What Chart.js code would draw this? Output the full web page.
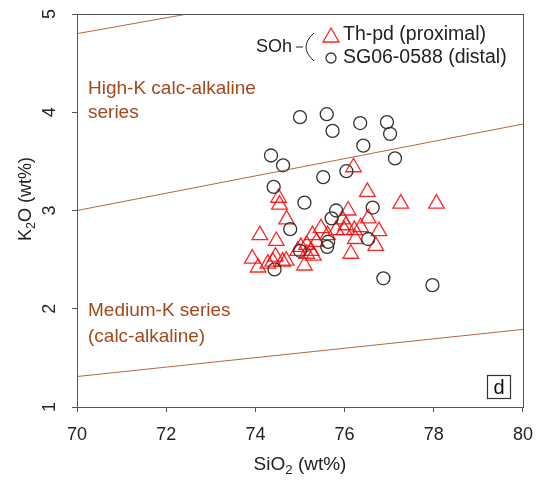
<!DOCTYPE html>
<html>
<head>
<meta charset="utf-8">
<script src="https://cdn.jsdelivr.net/npm/chart.js@4.4.0/dist/chart.umd.min.js"></script>
<style>
  html, body { margin: 0; padding: 0; background: #fff; }
</style>
</head>
<body>
<canvas id="myChart" width="545" height="481"></canvas>
<script>
const ctx = document.getElementById('myChart');

// axis ticks
const xTicks = [70, 72, 74, 76, 78, 80];
const yTicks = [1, 2, 3, 4, 5];

// Th-pd (proximal) glass
const thpdSiO2 = [76.20, 76.51, 77.26, 78.06, 74.52, 74.54, 74.70, 76.08, 76.53, 76.77,
  76.70, 76.36, 76.24, 76.14, 75.95, 76.03, 76.22, 74.10, 74.47, 75.47,
  75.62, 75.28, 75.37, 75.15, 75.02, 74.95, 75.25, 75.30, 75.15, 75.10,
  73.93, 74.06, 74.45, 74.39, 74.61, 74.69, 74.28, 75.81, 75.99];
const thpdK2O = [3.44, 3.19, 3.07, 3.07, 3.13, 3.06, 2.91, 3.00, 2.92, 2.79,
  2.64, 2.83, 2.71, 2.56, 2.91, 2.85, 2.80, 2.75, 2.69, 2.82,
  2.75, 2.75, 2.68, 2.65, 2.63, 2.59, 2.59, 2.54, 2.56, 2.44,
  2.51, 2.42, 2.53, 2.48, 2.48, 2.49, 2.46, 2.80, 2.80];

// SG06-0588 (distal) glass
const sgSiO2 = [75.00, 75.60, 75.73, 76.35, 76.95, 77.02, 76.42, 74.35, 74.62, 77.13,
  76.04, 75.52, 74.41, 75.10, 75.81, 75.71, 76.63, 74.78, 76.53, 75.63,
  75.61, 75.00, 74.43, 76.87, 77.97];
const sgK2O = [3.95, 3.98, 3.81, 3.89, 3.90, 3.78, 3.66, 3.56, 3.46, 3.53,
  3.40, 3.34, 3.24, 3.08, 3.00, 2.92, 3.03, 2.81, 2.71, 2.68,
  2.63, 2.59, 2.40, 2.31, 2.24];

// series boundaries
const shoSiO2 = [70, 72.48];
const shoK2O = [4.80, 5.00];
const highKSiO2 = [70, 80];
const highKK2O = [3.00, 3.88];
const medKSiO2 = [70, 80];
const medKK2O = [1.31, 1.79];

const font = 'Liberation Sans, Arial, sans-serif';
const lineBrown = '#b5683f';
const textBrown = '#a3481c';
const axisGrey = '#555';

function pts(xs, ys) {
  return xs.map((x, i) => ({ x: x, y: ys[i] }));
}

// text with a subscript part: parts = [[text, sub?], ...]
function drawSubText(c, parts, x, y, size) {
  let w = 0;
  parts.forEach(p => {
    c.font = (p[1] ? size * 0.7 : size) + 'px ' + font;
    w += c.measureText(p[0]).width;
  });
  let cx = x - w / 2;
  c.textAlign = 'left';
  c.textBaseline = 'middle';
  parts.forEach(p => {
    c.font = (p[1] ? size * 0.7 : size) + 'px ' + font;
    c.fillText(p[0], cx, p[1] ? y + size * 0.3 : y);
    cx += c.measureText(p[0]).width;
  });
}

const extras = {
  id: 'extras',
  afterDraw(chart) {
    const c = chart.ctx;
    const a = chart.chartArea;
    const ys = chart.scales.y;
    c.save();

    // frame
    c.strokeStyle = axisGrey;
    c.lineWidth = 1;
    c.strokeRect(a.left + 0.5, a.top + 0.5, a.right - a.left, a.bottom - a.top);

    // y tick labels, rotated
    c.fillStyle = '#222';
    c.font = '18px ' + font;
    c.textAlign = 'center';
    c.textBaseline = 'middle';
    yTicks.forEach(v => {
      c.save();
      c.translate(a.left - 27, ys.getPixelForValue(v));
      c.rotate(-Math.PI / 2);
      c.fillText(String(v), 0, 0);
      c.restore();
    });

    // axis titles
    drawSubText(c, [['SiO', false], ['2', true], [' (wt%)', false]], (a.left + a.right) / 2, 465, 19);
    c.save();
    c.translate(26, 199);
    c.rotate(-Math.PI / 2);
    drawSubText(c, [['K', false], ['2', true], ['O (wt%)', false]], 0, 0, 18);
    c.restore();

    // series names
    c.fillStyle = textBrown;
    c.font = '19px ' + font;
    c.textAlign = 'left';
    c.textBaseline = 'middle';
    c.fillText('High-K calc-alkaline', 88, 89);
    c.fillText('series', 88, 113);
    c.fillText('Medium-K series', 88, 311);
    c.fillText('(calc-alkaline)', 88, 337);

    // legend
    c.fillStyle = '#222';
    c.font = '18px ' + font;
    c.fillText('SOh', 256, 47);
    c.font = '19.5px ' + font;
    c.fillText('Th-pd (proximal)', 343, 35);
    c.fillText('SG06-0588 (distal)', 343, 58);
    c.strokeStyle = '#222';
    c.lineWidth = 1;
    c.beginPath();
    c.moveTo(296, 47);
    c.lineTo(303, 47);
    c.stroke();
    c.beginPath();
    c.moveTo(314, 33);
    c.quadraticCurveTo(298, 47, 314, 61);
    c.stroke();
    c.strokeStyle = 'rgba(255,0,0,0.85)';
    c.lineWidth = 1.3;
    c.beginPath();
    c.moveTo(331, 28);
    c.lineTo(339, 42);
    c.lineTo(323, 42);
    c.closePath();
    c.stroke();
    c.strokeStyle = '#333';
    c.beginPath();
    c.arc(331, 58, 5, 0, Math.PI * 2);
    c.stroke();

    // panel letter
    c.strokeStyle = '#333';
    c.lineWidth = 1.2;
    c.strokeRect(487.5, 375.5, 23, 23);
    c.fillStyle = '#111';
    c.font = '20px ' + font;
    c.textAlign = 'center';
    c.fillText('d', 499, 388);

    c.restore();
  }
};

new Chart(ctx, {
  type: 'scatter',
  data: {
    datasets: [
      {
        label: 'SG06-0588 (distal)',
        data: pts(sgSiO2, sgK2O),
        pointStyle: 'circle',
        pointRadius: 6.5,
        borderColor: '#333',
        backgroundColor: 'rgba(0,0,0,0)',
        borderWidth: 1.3
      },
      {
        label: 'Th-pd (proximal)',
        data: pts(thpdSiO2, thpdK2O),
        pointStyle: 'triangle',
        pointRadius: 9,
        borderColor: 'rgba(255,0,0,0.85)',
        backgroundColor: 'rgba(0,0,0,0)',
        borderWidth: 1.3
      },
      {
        type: 'line',
        data: pts(shoSiO2, shoK2O),
        borderColor: lineBrown,
        borderWidth: 1,
        pointRadius: 0
      },
      {
        type: 'line',
        data: pts(highKSiO2, highKK2O),
        borderColor: lineBrown,
        borderWidth: 1,
        pointRadius: 0
      },
      {
        type: 'line',
        data: pts(medKSiO2, medKK2O),
        borderColor: lineBrown,
        borderWidth: 1,
        pointRadius: 0
      }
    ]
  },
  options: {
    responsive: false,
    animation: false,
    layout: { padding: { top: 14, right: 21, left: 0, bottom: 0 } },
    plugins: {
      legend: { display: false },
      tooltip: { enabled: false }
    },
    scales: {
      x: {
        type: 'linear',
        position: 'bottom',
        min: 70,
        max: 80,
        afterBuildTicks: s => { s.ticks = xTicks.map(v => ({ value: v })); },
        afterFit: s => { s.height = 74; },
        grid: { display: true, drawOnChartArea: false, drawTicks: true, tickLength: 5, color: axisGrey },
        border: { display: true, color: axisGrey },
        ticks: { color: '#222', font: { family: font, size: 18 }, padding: 12 }
      },
      y: {
        type: 'linear',
        min: 1,
        max: 5,
        afterBuildTicks: s => { s.ticks = yTicks.map(v => ({ value: v })); },
        afterFit: s => { s.width = 77; },
        grid: { display: true, drawOnChartArea: false, drawTicks: true, tickLength: 5, color: axisGrey },
        border: { display: true, color: axisGrey },
        ticks: { display: false }
      }
    }
  },
  plugins: [extras]
});
</script>
</body>
</html>
